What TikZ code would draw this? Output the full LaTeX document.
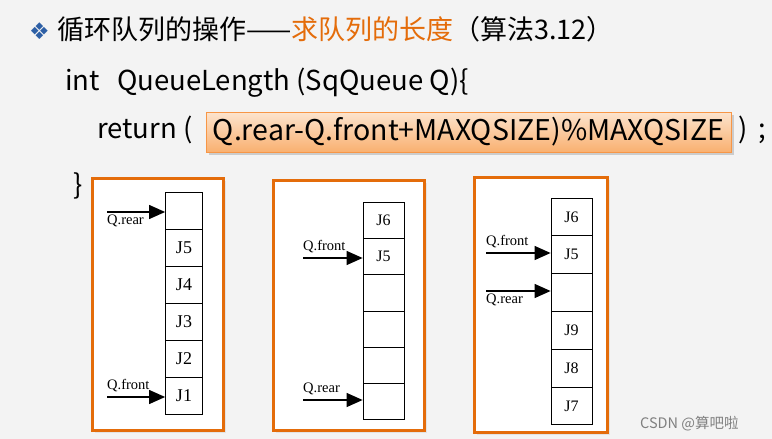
\documentclass[tikz,border=0pt]{standalone}
\usepackage{fontspec}
\setmainfont{Noto Sans CJK SC}
\newfontfamily\cellfont{Liberation Serif}
\newfontfamily\symfont{DejaVu Sans}
\usetikzlibrary{arrows.meta,positioning}
\definecolor{bg}{RGB}{243,243,243}
\definecolor{panelorange}{RGB}{228,108,10}
\definecolor{titleorange}{RGB}{228,108,10}
\definecolor{boxtop}{RGB}{252,228,206}
\definecolor{boxbot}{RGB}{249,176,112}
\definecolor{boxline}{RGB}{247,150,70}
\definecolor{bulletblue}{RGB}{45,95,165}

\begin{document}
\begin{tikzpicture}[x=1pt,y=-1pt,
  code/.style={anchor=base west,inner sep=0pt,font=\fontsize{27.5}{27.5}\selectfont},
  panel/.style={draw=panelorange,line width=3pt,fill=white},
  cell/.style={draw,line width=0.8pt,inner sep=0pt,font=\cellfont\fontsize{18}{18}\selectfont},
  ptr/.style={-{Triangle[length=16pt,width=14pt]},line width=1.2pt},
  lab/.style={inner sep=0pt,font=\cellfont\fontsize{14.5}{14.5}\selectfont}]
\fill[bg] (0,0) rectangle (772,439);
\useasboundingbox (0,0) rectangle (772,439);

% heading and code
\node[code,font=\symfont\fontsize{23}{23}\selectfont,text=bulletblue] (bullet) at (29,39) {❖};
\node[code,font=\fontsize{27}{27}\selectfont] (title) at (57,39) {循环队列的操作——\textcolor{titleorange}{求队列的长度}（算法3.12）};
\node[code] (head) at (65,90) {int\hspace{0.4em} QueueLength (SqQueue Q)\{};
\node[code] (ret) at (97,138) {return (};
\fill[gray!40] (209,115) rectangle (734,155);
\node[draw=boxline,line width=1pt,top color=boxtop,bottom color=boxbot,minimum width=525pt,minimum height=40pt,inner sep=0pt,
  font=\fontsize{28.5}{28.5}\selectfont] (expr) at (468.5,132) {Q.rear-Q.front+MAXQSIZE)\%MAXQSIZE};
\node[code] (close) at (738,138) {)};
\node[code] (semi) at (758,138) {;};
\node[code] (brace) at (73,194) {\}};

% first queue
\fill[gray!22] (95,181) rectangle (226,433);
\draw[panel] (92,178) rectangle (223,430);
\foreach \t [count=\i from 0] in {{},J5,J4,J3,J2,J1}
  \node[cell,minimum width=37pt,minimum height=37pt] (a\i) at (184,210.5+37*\i) {\t};
\coordinate (ar) at (107,212);
\coordinate (af) at (107,397);
\draw[ptr] (ar) -- (ar -| a0.west);
\draw[ptr] (af) -- (af -| a5.west);
\node[lab,below right=3pt and 0pt of ar] (arl) {Q.rear};
\node[lab,above right=5pt and 0pt of af] (afl) {Q.front};

% second queue
\fill[gray!22] (276,183) rectangle (427,433);
\draw[panel] (273,180) rectangle (424,430);
\foreach \t [count=\i from 0] in {J6,J5,{},{},{},{}}
  \node[cell,font=\cellfont\fontsize{16}{16}\selectfont,minimum width=41pt,minimum height=36.3pt] (b\i) at (383.5,220.15+36.3*\i) {\t};
\coordinate (bf) at (303,258);
\coordinate (br) at (303,400);
\draw[ptr] (bf) -- (bf -| b1.west);
\draw[ptr] (br) -- (br -| b5.west);
\node[lab,above right=5pt and 0pt of bf] (bfl) {Q.front};
\node[lab,above right=5pt and 0pt of br] (brl) {Q.rear};

% third queue
\fill[gray!22] (477,180) rectangle (610,435);
\draw[panel] (474,177) rectangle (607,432);
\foreach \t [count=\i from 0] in {J6,J5,{},J9,J8,J7}
  \node[cell,font=\cellfont\fontsize{16}{16}\selectfont,minimum width=41pt,minimum height=37.8pt] (c\i) at (571.5,216.9+37.8*\i) {\t};
\coordinate (cf) at (486,253);
\coordinate (cr) at (486,291);
\draw[ptr] (cf) -- (cf -| c1.west);
\draw[ptr] (cr) -- (cr -| c2.west);
\node[lab,above right=5pt and 0pt of cf] (cfl) {Q.front};
\node[lab,below right=3pt and 0pt of cr] (crl) {Q.rear};

\node[code,font=\fontsize{14.5}{14.5}\selectfont,text=gray] (mark) at (640,428) {CSDN @算吧啦};
\end{tikzpicture}
\end{document}
